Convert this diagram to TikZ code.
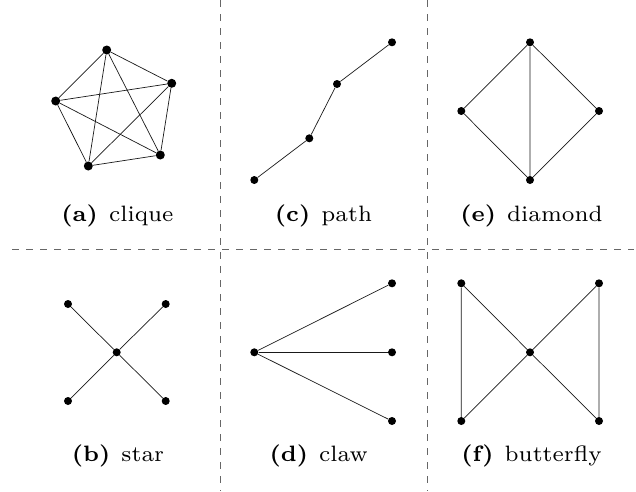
\documentclass[tikz,border=0pt]{standalone}
\begin{document}
\begin{tikzpicture}[x=1pt,y=-1pt,
  vtx/.style={circle,fill=black,inner sep=0pt,minimum size=8pt},
  bigvtx/.style={circle,fill=black,inner sep=0pt,minimum size=9pt},
  edge/.style={line width=0.7pt,black!90},
  sep/.style={draw=black!60,line width=0.9pt,dash pattern=on 7pt off 7pt},
  captext/.style={anchor=base,scale=3.18,inner sep=0pt,font=\fontsize{7}{8}\selectfont}]
\useasboundingbox (0,0) rectangle (636,491);
% separators
\coordinate (h1) at (12,249); \coordinate (h2) at (634,249);
\coordinate (v1a) at (220.5,0); \coordinate (v1b) at (220.5,491);
\coordinate (v2a) at (427.5,0); \coordinate (v2b) at (427.5,491);
\draw[sep] (h1) -- (h2);
\draw[sep] (v1a) -- (v1b);
\draw[sep] (v2a) -- (v2b);
% (a) clique
\node[bigvtx] (a1) at (106.7,50) {};
\node[bigvtx] (a2) at (171.7,83.3) {};
\node[bigvtx] (a3) at (160.3,155) {};
\node[bigvtx] (a4) at (88.3,166) {};
\node[bigvtx] (a5) at (55.7,101) {};
\foreach \u/\v in {a1/a2,a1/a3,a1/a4,a1/a5,a2/a3,a2/a4,a2/a5,a3/a4,a3/a5,a4/a5}
  \draw[edge] (\u) -- (\v);
\node[captext] (la) at (117.5,221.5) {\textbf{(a)}\enspace clique};
% (c) path
\node[vtx] (c1) at (254.3,180) {};
\node[vtx] (c2) at (309.3,138.3) {};
\node[vtx] (c3) at (337,84) {};
\node[vtx] (c4) at (392,42.3) {};
\draw[edge] (c1) -- (c2) -- (c3) -- (c4);
\node[captext] (lc) at (323.5,221.5) {\textbf{(c)}\enspace path};
% (e) diamond
\node[vtx] (e1) at (530,42.3) {};
\node[vtx] (e2) at (461.3,111) {};
\node[vtx] (e3) at (599,111) {};
\node[vtx] (e4) at (530,180) {};
\draw[edge] (e1) -- (e2) -- (e4) -- (e3) -- (e1) -- (e4);
\node[captext] (le) at (531.5,221.5) {\textbf{(e)}\enspace diamond};
% (b) star
\node[vtx] (b0) at (116.7,352.3) {};
\node[vtx] (b1) at (68,304) {};
\node[vtx] (b2) at (165.7,304) {};
\node[vtx] (b3) at (68,401) {};
\node[vtx] (b4) at (165.7,401) {};
\foreach \v in {b1,b2,b3,b4} \draw[edge] (b0) -- (\v);
\node[captext] (lb) at (118,461.5) {\textbf{(b)}\enspace star};
% (d) claw
\node[vtx] (d0) at (254.3,352.3) {};
\node[vtx] (d1) at (392,283.3) {};
\node[vtx] (d2) at (392,352.3) {};
\node[vtx] (d3) at (392,421) {};
\foreach \v in {d1,d2,d3} \draw[edge] (d0) -- (\v);
\node[captext] (ld) at (318.7,461.5) {\textbf{(d)}\enspace claw};
% (f) butterfly
\node[vtx] (f0) at (530,352.3) {};
\node[vtx] (f1) at (461.3,283.3) {};
\node[vtx] (f2) at (599,283.3) {};
\node[vtx] (f3) at (461.3,421) {};
\node[vtx] (f4) at (599,421) {};
\draw[edge] (f1) -- (f3) -- (f0) -- (f1);
\draw[edge] (f2) -- (f4) -- (f0) -- (f2);
\node[captext] (lf) at (531.5,461.5) {\textbf{(f)}\enspace butterfly};
\end{tikzpicture}
\end{document}
